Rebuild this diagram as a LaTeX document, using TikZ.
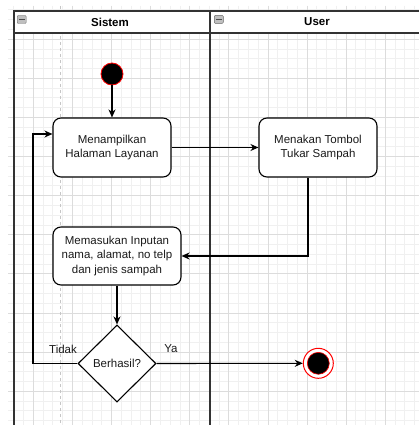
\documentclass[tikz,border=0pt]{standalone}
\usepackage{fontspec}
\setmainfont{Liberation Sans}
\usetikzlibrary{shapes.geometric,arrows.meta,calc}
\definecolor{gridminor}{HTML}{F0F0F0}
\definecolor{gridmajor}{HTML}{DCDCDC}
\definecolor{poolline}{HTML}{333333}
\definecolor{txt}{HTML}{1A1A1A}
\begin{document}
\begin{tikzpicture}[x=1pt,y=-1pt,
  font=\fontsize{11.5}{13.6}\selectfont,
  act/.style={draw=black,line width=1.1pt,rounded corners=8pt,fill=white,align=center,text=txt,inner sep=0pt},
  arr/.style={draw=black,line width=1.1pt,-{Stealth[length=8pt,width=7pt,inset=2.5pt]}},
  lane/.style={draw=poolline,line width=1.4pt},
  hdr/.style={font=\fontsize{11.5}{13.6}\selectfont\bfseries,text=black},
  lbl/.style={text=txt},
  icon/.style={draw=gray!80!black,fill=gray!50,minimum width=9pt,minimum height=8pt,inner sep=0pt,rounded corners=1pt,
    path picture={\draw[line width=1.2pt,black!70] ([xshift=-2.8pt]path picture bounding box.center) -- ([xshift=2.8pt]path picture bounding box.center);}}
]
\useasboundingbox (0,0) rectangle (419,425);
\fill[white] (0,0) rectangle (419,425);
% grid
\foreach \i in {0,...,41} {
  \pgfmathsetmacro\gx{13.75+\i*9.775}
  \draw[gridminor,line width=0.8pt] (\gx,6) -- (\gx,425);
}
\foreach \i in {0,...,42} {
  \pgfmathsetmacro\gy{9.9+\i*9.775}
  \draw[gridminor,line width=0.8pt] (8,\gy) -- (419,\gy);
}
\foreach \i in {0,...,9} {
  \pgfmathsetmacro\gx{33.3+\i*39.1}
  \draw[gridmajor,line width=0.8pt] (\gx,6) -- (\gx,425);
  \pgfmathsetmacro\gy{39.2+\i*39.1}
  \draw[gridmajor,line width=0.8pt] (8,\gy) -- (419,\gy);
}
\draw[gray!45,line width=0.8pt,dash pattern=on 3pt off 3pt] (60,6) -- (60,425);
% pool
\fill[white] (14,11) rectangle (419,33);
\draw[lane] (14,425) -- (14,11) -- (419,11);
\draw[lane] (14,33) -- (419,33);
\draw[lane] (210,11) -- (210,425);
\node[hdr] (hs) at (110,22) {Sistem};
\node[hdr] (hu) at (317,22) {User};
\node[icon] (ic1) at (21.7,19.5) {};
\node[icon] (ic2) at (218.8,19.4) {};
% nodes
\node[circle,fill=black,draw=red,line width=0.8pt,minimum size=22pt,inner sep=0pt] (start) at (112,74) {};
\node[act,minimum width=118pt,minimum height=59pt] (b1) at (112,147.5) {Menampilkan\\Halaman Layanan};
\node[act,minimum width=118pt,minimum height=59pt] (b2) at (318,147.5) {Menakan Tombol\\Tukar Sampah};
\node[act,minimum width=128pt,minimum height=58pt,font=\fontsize{11.5}{14.5}\selectfont] (b3) at (117,256) {Memasukan Inputan\\nama, alamat, no telp\\dan jenis sampah};
\node[diamond,draw=black,line width=1.1pt,fill=white,minimum width=78pt,minimum height=77pt,inner sep=0pt,text=txt] (dia) at (117,363.5) {Berhasil?};
\node[circle,draw=red,fill=white,line width=1pt,minimum size=30pt,inner sep=0pt] (end) at (318.3,363.3) {};
\node[circle,fill=black,draw=red,line width=0.6pt,minimum size=22pt,inner sep=0pt] (endin) at (end.center) {};
% connectors
\draw[arr] (start) -- (b1);
\draw[arr] (b1) -- (b2);
\draw[arr] ([xshift=-10pt]b2.south) |- (b3.east);
\draw[arr] (b3) -- (dia);
\coordinate (tk) at (33,134);
\draw[arr] (dia.west) -| (tk) -- (tk -| b1.west);
\draw[arr] (dia.east) -- (end.west);
\node[lbl] (tidak) at (63,349) {Tidak};
\node[lbl] (ya) at (171,349) {Ya};
\end{tikzpicture}
\end{document}
